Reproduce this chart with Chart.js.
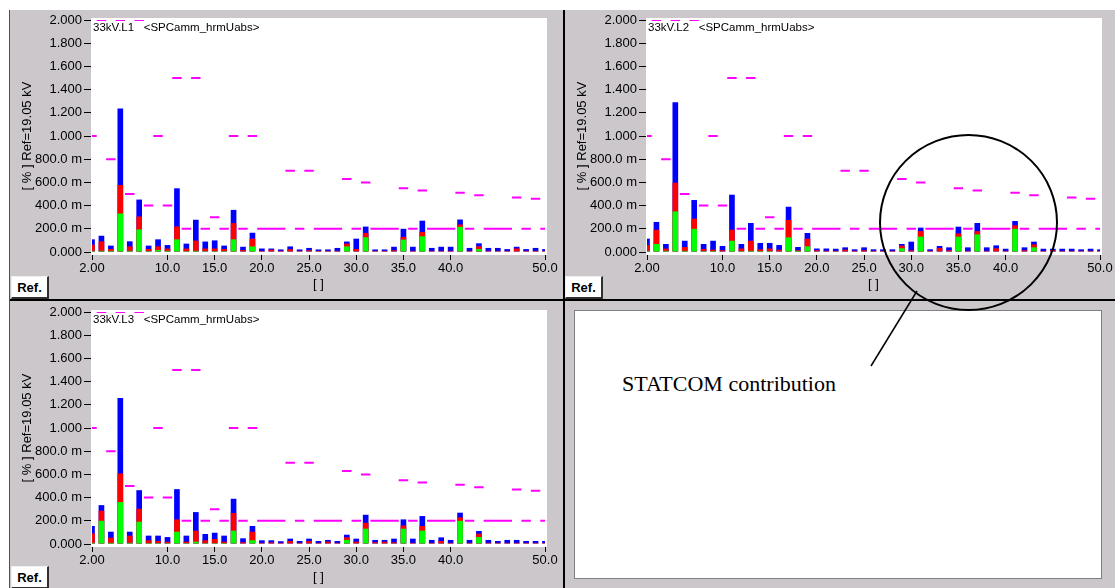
<!DOCTYPE html>
<html>
<head>
<meta charset="utf-8">
<script src="https://cdn.jsdelivr.net/npm/chart.js@4.4.1/dist/chart.umd.min.js"></script>
<style>
  html, body { margin: 0; padding: 0; background: #fff; }
  #page { position: relative; width: 1115px; height: 588px; overflow: hidden; background: #fff; }
  .bg { position: absolute; left: 10px; top: 10px; width: 1105px; height: 578px; background: #cbc7cb; }
  canvas { position: absolute; }
  .line { position: absolute; background: #000; }
  .ref { position: absolute; width: 35px; height: 20px; background: #fff;
         border-top: 1px solid #f0f0f0; border-left: 1px solid #f0f0f0;
         border-right: 2px solid #303030; border-bottom: 2px solid #303030;
         font: bold 13px "Liberation Sans", Arial, sans-serif; line-height: 21px; text-align: center; color: #000; }
  .box4 { position: absolute; left: 574px; top: 310px; width: 526px; height: 267px; background: #fff; border: 1px solid #808080; }
  .note { position: absolute; left: 622px; top: 371px; font: 22px "Liberation Serif", "Times New Roman", serif; color: #000; white-space: nowrap; }
  svg { position: absolute; left: 0; top: 0; }
</style>
</head>
<body>
<div id="page">
  <div class="bg"></div>
  <div class="line" style="left:9px;top:10px;width:1px;height:578px;background:#505050"></div>
  <div class="line" style="left:563px;top:10px;width:2px;height:578px"></div>
  <div class="line" style="left:10px;top:299px;width:1105px;height:2px"></div>
  <div class="box4"></div>

  <canvas id="panelL1" width="554" height="289" style="left:10px;top:10px"></canvas>
  <canvas id="panelL2" width="550" height="289" style="left:565px;top:10px"></canvas>
  <canvas id="panelL3" width="553" height="286" style="left:10px;top:302px"></canvas>

  <div class="ref" style="left:11px;top:276px">Ref.</div>
  <div class="ref" style="left:565px;top:276px">Ref.</div>
  <div class="ref" style="left:11px;top:566px">Ref.</div>

  <div class="note">STATCOM contribution</div>
  <svg width="1115" height="588">
    <ellipse cx="968.5" cy="222.5" rx="88.5" ry="87.5" fill="none" stroke="#000" stroke-width="2"/>
    <line x1="871" y1="366" x2="917" y2="291" stroke="#000" stroke-width="1.5"/>
  </svg>
</div>

<script>
// Harmonic orders on the x axis
const harmonics = [2, 3, 4, 5, 6, 7, 8, 9, 10, 11, 12, 13, 14, 15, 16, 17, 18, 19, 20, 21, 22, 23, 24, 25, 26,
    27, 28, 29, 30, 31, 32, 33, 34, 35, 36, 37, 38, 39, 40, 41, 42, 43, 44, 45, 46, 47, 48, 49, 50];

// Limit level per harmonic (magenta dashes), [%]
const limitLevels = [1.0, 2.0, 0.8, 2.0, 0.5, 2.0, 0.4, 1.0, 0.4, 1.5, 0.2, 1.5, 0.2, 0.3, 0.2, 1.0, 0.2, 1.0,
    0.2, 0.2, 0.2, 0.7, 0.2, 0.7, 0.2, 0.2, 0.2, 0.63, 0.2, 0.6, 0.2, 0.2, 0.2, 0.55, 0.2, 0.53, 0.2, 0.2, 0.2,
    0.51, 0.2, 0.49, 0.2, 0.2, 0.2, 0.47, 0.2, 0.46, 0.2];

// 33kV.L1
const l1Green = [0.01, 0.01, 0.01, 0.332, 0.01, 0.194, 0.008, 0.017, 0.01, 0.109, 0.008, 0.01, 0.008, 0.008, 0.008,
    0.109, 0.005, 0.048, 0.005, 0.005, 0.005, 0.005, 0.005, 0.005, 0.005, 0.005, 0.005, 0.048, 0.005, 0.127, 0.005,
    0.005, 0.005, 0.107, 0.005, 0.135, 0.005, 0.005, 0.005, 0.217, 0.005, 0.025, 0.005, 0.005, 0.005, 0.005, 0.005,
    0.005, 0.005];
const l1Red = [0.063, 0.092, 0.026, 0.577, 0.049, 0.306, 0.026, 0.049, 0.03, 0.22, 0.03, 0.098, 0.03, 0.03, 0.026,
    0.249, 0.017, 0.115, 0.01, 0.02, 0.01, 0.024, 0.01, 0.015, 0.01, 0.01, 0.01, 0.072, 0.026, 0.165, 0.01, 0.01,
    0.015, 0.13, 0.01, 0.173, 0.01, 0.01, 0.01, 0.237, 0.01, 0.05, 0.01, 0.01, 0.01, 0.03, 0.01, 0.01, 0.01];
const l1Blue = [0.109, 0.14, 0.055, 1.237, 0.092, 0.452, 0.055, 0.109, 0.06, 0.549, 0.072, 0.278, 0.09, 0.1, 0.055,
    0.363, 0.045, 0.166, 0.03, 0.03, 0.022, 0.048, 0.022, 0.035, 0.022, 0.022, 0.035, 0.09, 0.115, 0.219, 0.022,
    0.022, 0.045, 0.2, 0.045, 0.27, 0.035, 0.045, 0.045, 0.28, 0.035, 0.075, 0.035, 0.035, 0.025, 0.045, 0.025,
    0.035, 0.025];

// 33kV.L2
const l2Green = [0.01, 0.069, 0.01, 0.35, 0.01, 0.2, 0.008, 0.008, 0.005, 0.097, 0.008, 0.01, 0.008, 0.008, 0.005,
    0.126, 0.01, 0.049, 0.005, 0.005, 0.005, 0.005, 0.005, 0.005, 0.005, 0.005, 0.005, 0.032, 0.005, 0.132, 0.005,
    0.005, 0.005, 0.132, 0.005, 0.152, 0.005, 0.005, 0.005, 0.2, 0.005, 0.04, 0.005, 0.005, 0.005, 0.005, 0.005,
    0.005, 0.005];
const l2Red = [0.06, 0.192, 0.03, 0.597, 0.043, 0.287, 0.026, 0.02, 0.015, 0.192, 0.03, 0.097, 0.023, 0.03, 0.02,
    0.276, 0.015, 0.115, 0.015, 0.01, 0.01, 0.02, 0.01, 0.015, 0.01, 0.01, 0.01, 0.055, 0.015, 0.18, 0.01, 0.035,
    0.015, 0.16, 0.01, 0.18, 0.01, 0.032, 0.01, 0.23, 0.015, 0.066, 0.01, 0.015, 0.01, 0.01, 0.01, 0.01, 0.01];
const l2Blue = [0.115, 0.259, 0.069, 1.29, 0.097, 0.448, 0.069, 0.097, 0.052, 0.494, 0.069, 0.25, 0.078, 0.078, 0.06,
    0.39, 0.043, 0.164, 0.03, 0.03, 0.028, 0.04, 0.023, 0.04, 0.023, 0.023, 0.023, 0.069, 0.089, 0.21, 0.023, 0.052,
    0.04, 0.218, 0.04, 0.25, 0.04, 0.057, 0.028, 0.267, 0.04, 0.089, 0.028, 0.028, 0.028, 0.028, 0.023, 0.028,
    0.023];

// 33kV.L3
const l3Green = [0.01, 0.2, 0.01, 0.361, 0.01, 0.192, 0.008, 0.008, 0.008, 0.106, 0.008, 0.02, 0.008, 0.008, 0.008,
    0.115, 0.005, 0.032, 0.005, 0.005, 0.005, 0.005, 0.005, 0.005, 0.005, 0.005, 0.005, 0.035, 0.005, 0.132, 0.005,
    0.005, 0.005, 0.132, 0.005, 0.115, 0.005, 0.005, 0.005, 0.2, 0.005, 0.06, 0.005, 0.005, 0.005, 0.005, 0.005,
    0.005, 0.005];
const l3Red = [0.092, 0.287, 0.054, 0.608, 0.072, 0.304, 0.032, 0.026, 0.02, 0.212, 0.02, 0.115, 0.032, 0.043, 0.02,
    0.267, 0.015, 0.106, 0.01, 0.015, 0.01, 0.026, 0.01, 0.026, 0.01, 0.02, 0.01, 0.057, 0.02, 0.183, 0.015, 0.02,
    0.015, 0.16, 0.01, 0.155, 0.01, 0.026, 0.01, 0.229, 0.01, 0.089, 0.01, 0.01, 0.01, 0.01, 0.01, 0.01, 0.01];
const l3Blue = [0.155, 0.335, 0.106, 1.258, 0.106, 0.464, 0.072, 0.072, 0.06, 0.473, 0.072, 0.275, 0.086, 0.097,
    0.072, 0.39, 0.049, 0.155, 0.032, 0.032, 0.024, 0.046, 0.026, 0.046, 0.026, 0.035, 0.026, 0.08, 0.046, 0.252,
    0.035, 0.035, 0.046, 0.212, 0.046, 0.241, 0.035, 0.057, 0.035, 0.27, 0.035, 0.112, 0.035, 0.026, 0.035, 0.035,
    0.026, 0.026, 0.026];

// Axis ticks
const xTickValues = [2, 10, 15, 20, 25, 30, 35, 40, 50];
const xTickLabels = ['2.00', '10.0', '15.0', '20.0', '25.0', '30.0', '35.0', '40.0', '50.0'];
const yTickValues = [0, 0.2, 0.4, 0.6, 0.8, 1.0, 1.2, 1.4, 1.6, 1.8, 2.0];
const yTickLabels = ['0.000', '200.0 m', '400.0 m', '600.0 m', '800.0 m', '1.000', '1.200', '1.400', '1.600',
    '1.800', '2.000'];

const yAxisTitle = '[ % ] Ref=19.05 kV';
const xAxisTitle = '[ ]';

Chart.defaults.font.family = '"Liberation Sans", Arial, sans-serif';
Chart.defaults.color = '#000';

// White plot area plus the channel caption in the top-left corner
const plotFrame = {
    id: 'plotFrame',
    beforeDatasetsDraw(chart) {
        const { ctx, chartArea: a } = chart;
        ctx.save();
        ctx.fillStyle = '#fff';
        ctx.fillRect(a.left - 1, a.top - 2, a.width + 3, a.height + 5);
        ctx.restore();
    },
    afterDatasetsDraw(chart, args, opts) {
        const { ctx, chartArea: a } = chart;
        ctx.save();
        ctx.font = '11.5px "Liberation Sans", Arial, sans-serif';
        ctx.fillStyle = '#000';
        ctx.textBaseline = 'top';
        ctx.fillText(opts.text, a.left + 1, a.top + 2);
        ctx.restore();
    }
};

function barSet(values, color) {
    return {
        type: 'bar',
        data: harmonics.map((h, i) => ({ x: h, y: values[i] })),
        backgroundColor: color,
        borderWidth: 0,
        grouped: false,
        categoryPercentage: 1.0,
        barPercentage: 0.6
    };
}

function makePanel(id, caption, green, red, blue, padRight, xHeight, titlePad) {
    // one dash per harmonic, half an order either side
    const limitPoints = [];
    harmonics.forEach((h, i) => {
        limitPoints.push({ x: h - 0.5, y: limitLevels[i] });
        limitPoints.push({ x: h + 0.5, y: limitLevels[i] });
        limitPoints.push({ x: h + 0.5, y: null });
    });

    new Chart(document.getElementById(id), {
        data: {
            datasets: [
                {
                    type: 'line',
                    data: limitPoints,
                    borderColor: '#ff00ff',
                    borderWidth: 2,
                    pointRadius: 0,
                    spanGaps: false,
                    tension: 0
                },
                barSet(green, '#00ff00'),
                barSet(red, '#ff0000'),
                barSet(blue, '#0000ff')
            ]
        },
        options: {
            responsive: false,
            animation: false,
            layout: { padding: { left: 0, right: padRight, top: 10, bottom: 0 } },
            plugins: {
                legend: { display: false },
                tooltip: { enabled: false },
                plotFrame: { text: caption }
            },
            scales: {
                x: {
                    type: 'linear',
                    min: 2,
                    max: 50,
                    offset: false,
                    afterBuildTicks: function(scale) {
                        scale.ticks = xTickValues.map(v => ({ value: v }));
                    },
                    afterFit: function(scale) {
                        scale.height = xHeight;
                        scale.paddingLeft = 0;
                        scale.paddingRight = 0;
                    },
                    ticks: {
                        autoSkip: false,
                        maxRotation: 0,
                        padding: 1,
                        font: { size: 13 },
                        callback: function(value, index) {
                            return xTickLabels[index];
                        }
                    },
                    grid: { offset: false, drawOnChartArea: false, tickLength: 8, tickColor: '#000', tickWidth: 1 },
                    border: { display: false },
                    title: {
                        display: true,
                        text: xAxisTitle,
                        font: { size: 13 },
                        padding: { top: 0, bottom: titlePad }
                    }
                },
                y: {
                    min: 0,
                    max: 2,
                    afterBuildTicks: function(scale) {
                        scale.ticks = yTickValues.map(v => ({ value: v }));
                    },
                    afterFit: function(scale) {
                        scale.width = 82;
                        scale.paddingTop = 0;
                        scale.paddingBottom = 0;
                    },
                    ticks: {
                        padding: 2,
                        font: { size: 13 },
                        callback: function(value, index) {
                            return yTickLabels[index];
                        }
                    },
                    grid: { drawOnChartArea: false, tickLength: 8, tickColor: '#000', tickWidth: 1 },
                    border: { display: false },
                    title: {
                        display: true,
                        text: yAxisTitle,
                        font: { size: 13 },
                        padding: { top: 10, bottom: 0 }
                    }
                }
            }
        },
        plugins: [plotFrame]
    });
}

makePanel('panelL1', '33kV.L1   <SPCamm_hrmUabs>', l1Green, l1Red, l1Blue, 19, 47, 7);
makePanel('panelL2', '33kV.L2   <SPCamm_hrmUabs>', l2Green, l2Red, l2Blue, 15, 47, 7);
makePanel('panelL3', '33kV.L3   <SPCamm_hrmUabs>', l3Green, l3Red, l3Blue, 18, 44, 3);
</script>
</body>
</html>
